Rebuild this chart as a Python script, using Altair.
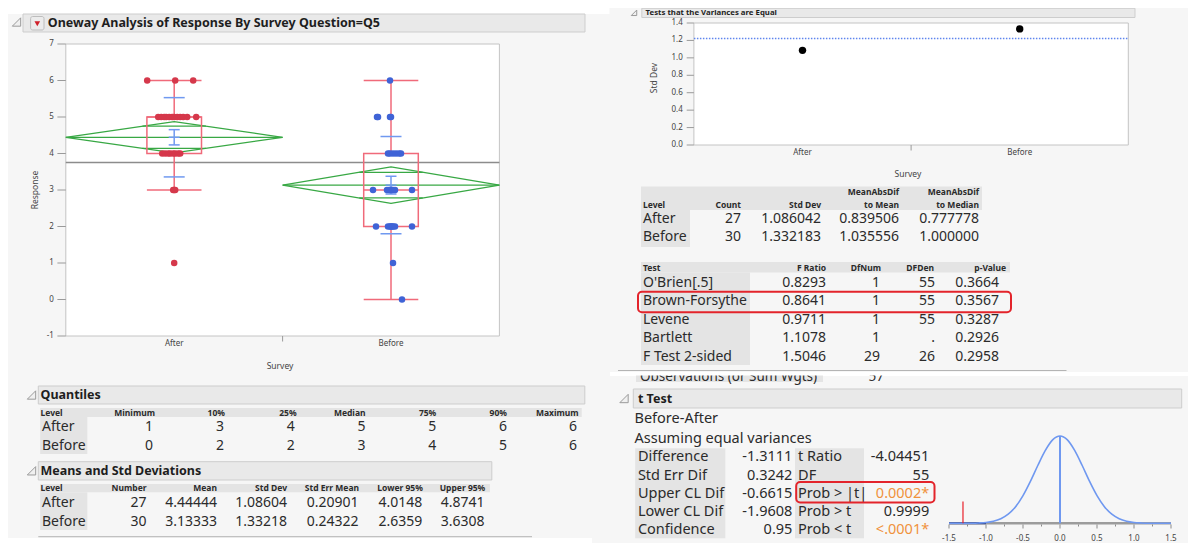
import altair as alt
import pandas as pd

FONT = "Noto Sans"

# ------------------------------------------------------------------ data
levels = ["After", "Before"]

after_resp = [6, 6, 6, 5, 5, 5, 5, 5, 5, 5, 5, 5, 5, 5, 5, 4, 4, 4, 4, 4, 4, 4, 4, 3, 3, 3, 1]
after_jitter_px = [-27, 1, 19, -16, -13, -10, -8, -5, -2, 0, 3, 6, 9, 13, 22,
                   -12, -9, -6, -4, -1, 1, 4, 6, -1, 0, 1, 0]
before_resp = [6, 5, 5, 5, 5, 4, 4, 4, 4, 4, 4, 3, 3, 3, 3, 3, 3, 3, 3, 3,
               2, 2, 2, 2, 2, 2, 2, 2, 1, 0]
before_jitter_px = [-1, -14, -13, -1, 0, -3, -1, 2, 5, 8, 10, -18, -4, -2, -1, 0, 1, 2, 4, 21,
                    -15, -3, -1, 0, 1, 2, 4, 21, 2, 11]
grand_mean = 3.754
whisker_lo = [3, 0]
whisker_hi = [6, 6]

quant_cols = ["Minimum", "10%", "25%", "Median", "75%", "90%", "Maximum"]
quant_after = [1, 3, 4, 5, 5, 6, 6]
quant_before = [0, 2, 2, 3, 4, 5, 6]

ms_cols = ["Number", "Mean", "Std Dev", "Std Err Mean", "Lower 95%", "Upper 95%"]
ms_number = [27, 30]
ms_mean = [4.44444, 3.13333]
ms_sd = [1.08604, 1.33218]
ms_sem = [0.20901, 0.24322]
ms_lower = [4.0148, 2.6359]
ms_upper = [4.8741, 3.6308]

var_sd = [1.086042, 1.332183]
var_mad_mean = [0.839506, 1.035556]
var_mad_median = [0.777778, 1.000000]
pooled_sd = 1.222
var_ticks = [0.0, 0.2, 0.4, 0.6, 0.8, 1.0, 1.2, 1.4]

tests = ["O'Brien[.5]", "Brown-Forsythe", "Levene", "Bartlett", "F Test 2-sided"]
f_ratio = [0.8293, 0.8641, 0.9711, 1.1078, 1.5046]
df_num = ["1", "1", "1", "1", "29"]
df_den = ["55", "55", "55", ".", "26"]
p_value = [0.3664, 0.3567, 0.3287, 0.2926, 0.2958]

tt_labels1 = ["Difference", "Std Err Dif", "Upper CL Dif", "Lower CL Dif", "Confidence"]
tt_values1 = ["-1.3111", "0.3242", "-0.6615", "-1.9608", "0.95"]
tt_labels2 = ["t Ratio", "DF", "Prob > |t|", "Prob > t", "Prob < t"]
tt_values2 = ["-4.04451", "55", "0.0002*", "0.9999", "<.0001*"]
tt_diff = -1.3111
curve_x = [-1.5, -1.4, -1.3, -1.2, -1.1, -1.0, -0.9, -0.8, -0.7, -0.6, -0.5, -0.4, -0.3, -0.2, -0.1,
           0.0, 0.1, 0.2, 0.3, 0.4, 0.5, 0.6, 0.7, 0.8, 0.9, 1.0, 1.1, 1.2, 1.3, 1.4, 1.5]
curve_h = [0.0, 0.0, 0.0, 0.001, 0.004, 0.01, 0.024, 0.053, 0.105, 0.19, 0.317, 0.48, 0.662, 0.832, 0.955,
           1.0, 0.955, 0.832, 0.662, 0.48, 0.317, 0.19, 0.105, 0.053, 0.024, 0.01, 0.004, 0.001, 0.0, 0.0, 0.0]
t_ticks = [-1.5, -1.0, -0.5, 0.0, 0.5, 1.0, 1.5]
t_tick_labels = ["-1.5", "-1.0", "-0.5", "0.0", "0.5", "1.0", "1.5"]

# ------------------------------------------------------------------ layout / style
OFF = 8.0
W, H = 1180, 535
PANEL = "#f6f6f6"
HDR = "#e9e9e9"
HDR_STROKE = "#cdcdcd"
CELL = "#e4e4e4"
TXT = "#2b2b2b"
RED = "#d5384b"
BLUE = "#3f63d6"
PINK = "#f06a7a"
GREEN = "#38a844"
LBLUE = "#7099f0"
ORANGE = "#f0923c"


def sc(dom, rng):
    return alt.Scale(domain=list(dom), range=[rng[0] - OFF, rng[1] - OFF], nice=False, zero=False)


PXS = sc((OFF, OFF + W), (OFF, OFF + W))
PYS = sc((OFF, OFF + H), (OFF, OFF + H))

OW_L, OW_R, OW_T, OW_B = 65.8, 499.4, 44.0, 336.0
OWX = sc((-0.5, 1.5), (OW_L, OW_R))
OWY = sc((-1, 7), (OW_B, OW_T))
PPU = (OW_R - OW_L) / 2.0
BOXH = 27.3 / PPU

V_L, V_R, V_T, V_B = 693.9, 1128.3, 23.0, 145.0
VX = sc((-0.5, 1.5), (V_L, V_R))
VY = sc((0, 1.4), (V_B, V_T))

TX = sc((-1.5, 1.5), (949.0, 1171.0))
TY = sc((0, 1), (523.3, 436.0))


def place(chart, x, y, x2=None, y2=None, text=None, **extra):
    enc = dict(x=alt.X(f"{x[0]}:Q", scale=x[1], axis=None),
               y=alt.Y(f"{y[0]}:Q", scale=y[1], axis=None))
    if x2:
        enc["x2"] = alt.X2(f"{x2}:Q")
    if y2:
        enc["y2"] = alt.Y2(f"{y2}:Q")
    if text:
        enc["text"] = alt.Text(f"{text}:N")
    enc.update(extra)
    return chart.encode(**enc)


def rects(boxes, **mk):
    df = pd.DataFrame(boxes, columns=["x", "y", "x2", "y2"])
    return place(alt.Chart(df).mark_rect(**mk), ("x", PXS), ("y", PYS), "x2", "y2")


def rules_px(segs, **mk):
    df = pd.DataFrame(segs, columns=["x", "y", "x2", "y2"])
    return place(alt.Chart(df).mark_rule(**mk), ("x", PXS), ("y", PYS), "x2", "y2")


def texts(rows, align="left", size=13.5, weight="normal", color=TXT, angle=0, baseline="middle"):
    df = pd.DataFrame(rows, columns=["x", "y", "t"])
    kw = dict(align=align, baseline=baseline, fontSize=size, fontWeight=weight, color=color, font=FONT)
    if angle:
        kw["angle"] = angle
    return place(alt.Chart(df).mark_text(**kw), ("x", PXS), ("y", PYS), text="t")


L = []

# ---- panel backgrounds
L.append(rects([(5.7, 14, 610, 538)], fill=PANEL))
L.append(rects([(592, 376, 1196, 551)], fill=PANEL))
L.append(rects([(636, 374, 823, 382)], fill=CELL))
L.append(texts([(640, 381, "Observations (or Sum Wgts)")], baseline="alphabetic"))
L.append(texts([(884, 381, "57")], align="right", baseline="alphabetic"))
L.append(rects([(609.5, 0, 1193, 372)], fill=PANEL))
L.append(rects([(610, 372, 1196, 375.5)], fill="white"))
L.append(rules_px([(618, 370.5, 1066.5, 370.5), (38.3, 536.7, 532, 536.7)], color="#b4b4b4", strokeWidth=1))

# ---- outline headers
L.append(rects([(23, 14, 585, 32), (641.8, 8.3, 1135, 17.5), (38.3, 386, 584.8, 404),
                (38.3, 461.7, 491.8, 480), (633.3, 389, 1181.7, 408)],
               fill=HDR, stroke=HDR_STROKE, strokeWidth=1))
L.append(texts([(47.8, 23, "Oneway Analysis of Response By Survey Question=Q5"),
                (40.5, 395, "Quantiles"),
                (40.5, 470.8, "Means and Std Deviations"),
                (637.9, 398.5, "t Test")], size=12.5, weight="bold", color="#1e1e1e"))
L.append(texts([(645.6, 12.8, "Tests that the Variances are Equal")], size=7.8, weight="bold", color="#1e1e1e"))
icon_df = pd.DataFrame({"x": [16.5, 31.5, 31.5, 624.0], "y": [22, 395, 470.8, 398.5]})
L.append(place(alt.Chart(icon_df).mark_point(shape="M 1 -1 L 1 1 L -1 1 Z", size=70, filled=True,
                                             fill="#f0f0f0", stroke="#9a9a9a", strokeWidth=1, opacity=1),
               ("x", PXS), ("y", PYS)))
L.append(place(alt.Chart(pd.DataFrame({"x": [634.0], "y": [12.8]})).mark_point(
    shape="M 1 -1 L 1 1 L -1 1 Z", size=30, filled=True, fill="#f0f0f0", stroke="#9a9a9a",
    strokeWidth=1, opacity=1), ("x", PXS), ("y", PYS)))
L.append(rects([(30.6, 16.5, 44, 30)], fill="#ececec", stroke="#bdbdbd", strokeWidth=1, cornerRadius=2))
L.append(place(alt.Chart(pd.DataFrame({"x": [37.3], "y": [23.8]})).mark_point(
    shape="triangle-down", size=32, filled=True, color="#d0202a", opacity=1), ("x", PXS), ("y", PYS)))

# ---- table header bands and level cells
L.append(rects([(641, 186.5, 982, 210), (641, 262, 1010, 272.5), (40.2, 408, 581.7, 417),
                (40.2, 484, 489.9, 492.3)], fill=CELL))
L.append(rects([(641, 210, 690, 247), (641, 272.5, 750, 365), (40.2, 417, 87.3, 454),
                (40.2, 492.3, 87.3, 530), (635.2, 448.3, 725.3, 538.3), (795, 448.3, 864, 538.3)],
               fill=CELL))

# ---- plot frames
L.append(rects([(OW_L, OW_T, OW_R, OW_B), (V_L, V_T, V_R, V_B)], fill="white", stroke="#c4c4c4", strokeWidth=1))

# =================================================================== Oneway plot
ow_ticks = pd.DataFrame({"v": list(range(-1, 8))})
ow_ticks["t"] = ow_ticks["v"].astype(str)
ow_ticks["xl"] = 53.8
ow_ticks["x1"] = 57.4
ow_ticks["x2"] = OW_L
L.append(place(alt.Chart(ow_ticks).mark_rule(color="#9a9a9a", strokeWidth=1), ("x1", PXS), ("v", OWY), x2="x2"))
L.append(place(alt.Chart(ow_ticks).mark_text(align="right", baseline="middle", fontSize=8, font=FONT, color="#444"),
               ("xl", PXS), ("v", OWY), text="t"))
ow_x = pd.DataFrame({"i": [0, 1], "t": levels, "y": [343.5, 343.5]})
L.append(place(alt.Chart(ow_x).mark_text(align="center", baseline="middle", fontSize=8, font=FONT, color="#444"),
               ("i", OWX), ("y", PYS), text="t"))
L.append(place(alt.Chart(pd.DataFrame({"i": [0.5], "y": [OW_B], "y2": [341.5]})).mark_rule(color="#9a9a9a"),
               ("i", OWX), ("y", PYS), y2="y2"))
L.append(texts([(280, 365.5, "Survey")], align="center", size=8.5, color="#444"))
L.append(texts([(35.2, 190, "Response")], align="center", size=8.5, color="#444", angle=270))

# mean diamonds
drows = []
f = 1 - 2 ** -0.5
for i in range(2):
    m, lo, hi = ms_mean[i], ms_lower[i], ms_upper[i]
    d = (hi - m) / 2 ** 0.5
    segs = {
        f"d{i}": [(i - 0.5, m), (i, hi), (i + 0.5, m), (i, lo), (i - 0.5, m)],
        f"c{i}": [(i - 0.5, m), (i + 0.5, m)],
        f"u{i}": [(i - 0.5 * f, m + d), (i + 0.5 * f, m + d)],
        f"l{i}": [(i - 0.5 * f, m - d), (i + 0.5 * f, m - d)],
    }
    for k, pts in segs.items():
        for o, (gx, gy) in enumerate(pts):
            drows.append(dict(seg=k, o=o, gx=gx, gy=gy))
dia = pd.DataFrame(drows)
L.append(place(alt.Chart(dia).mark_line(color=GREEN, strokeWidth=1.3), ("gx", OWX), ("gy", OWY),
               detail="seg:N", order="o:Q"))

# grand mean
L.append(place(alt.Chart(pd.DataFrame({"a": [-0.5], "b": [1.5], "m": [grand_mean]})).mark_rule(
    color="#8c8c8c", strokeWidth=1.6), ("a", OWX), ("m", OWY), x2="b"))

# box plots
box = pd.DataFrame({"i": [0, 1],
                    "q1": [quant_after[2], quant_before[2]],
                    "med": [quant_after[3], quant_before[3]],
                    "q3": [quant_after[4], quant_before[4]],
                    "wlo": whisker_lo, "whi": whisker_hi})
box["xl"] = box["i"] - BOXH
box["xr"] = box["i"] + BOXH
L.append(place(alt.Chart(box).mark_rect(fill="transparent", stroke=PINK, strokeWidth=1.5),
               ("xl", OWX), ("q1", OWY), x2="xr", y2="q3"))
for a, b in (("q3", "whi"), ("q1", "wlo")):
    L.append(place(alt.Chart(box).mark_rule(color=PINK, strokeWidth=1.5), ("i", OWX), (a, OWY), y2=b))
for c in ("med", "whi", "wlo"):
    L.append(place(alt.Chart(box).mark_rule(color=PINK, strokeWidth=1.5), ("xl", OWX), (c, OWY), x2="xr"))

# std dev lines and mean error bars
mb = pd.DataFrame({"i": [0, 1], "m": ms_mean, "sd": ms_sd, "se": ms_sem})
mb["sdh"] = mb["m"] + mb["sd"]
mb["sdl"] = mb["m"] - mb["sd"]
mb["seh"] = mb["m"] + mb["se"]
mb["sel"] = mb["m"] - mb["se"]
mb["a1"] = mb["i"] - 10.5 / PPU
mb["b1"] = mb["i"] + 10.5 / PPU
mb["a2"] = mb["i"] - 5.5 / PPU
mb["b2"] = mb["i"] + 5.5 / PPU
for c in ("sdh", "sdl"):
    L.append(place(alt.Chart(mb).mark_rule(color=LBLUE, strokeWidth=1.5), ("a1", OWX), (c, OWY), x2="b1"))
for c in ("seh", "sel", "m"):
    L.append(place(alt.Chart(mb).mark_rule(color=LBLUE, strokeWidth=1.5), ("a2", OWX), (c, OWY), x2="b2"))
L.append(place(alt.Chart(mb).mark_rule(color=LBLUE, strokeWidth=1.5), ("i", OWX), ("sel", OWY), y2="seh"))

# points
prow = []
for gi, (resp, jit) in enumerate(((after_resp, after_jitter_px), (before_resp, before_jitter_px))):
    for r, j in zip(resp, jit):
        prow.append(dict(px=gi + j / PPU, r=r, g=levels[gi]))
pts = pd.DataFrame(prow)
L.append(place(alt.Chart(pts).mark_circle(size=42, opacity=1), ("px", OWX), ("r", OWY),
               color=alt.Color("g:N", scale=alt.Scale(domain=levels, range=[RED, BLUE]), legend=None)))

# =================================================================== variance plot
vt = pd.DataFrame({"v": var_ticks})
vt["t"] = [f"{v:.1f}" for v in var_ticks]
vt["xl"] = 682.8
vt["x1"] = 686.7
vt["x2"] = V_L
L.append(place(alt.Chart(vt).mark_rule(color="#9a9a9a"), ("x1", PXS), ("v", VY), x2="x2"))
L.append(place(alt.Chart(vt).mark_text(align="right", baseline="middle", fontSize=8, font=FONT, color="#444"),
               ("xl", PXS), ("v", VY), text="t"))
vx = pd.DataFrame({"i": [0, 1], "t": levels, "y": [152.5, 152.5]})
L.append(place(alt.Chart(vx).mark_text(align="center", baseline="middle", fontSize=8, font=FONT, color="#444"),
               ("i", VX), ("y", PYS), text="t"))
L.append(place(alt.Chart(pd.DataFrame({"i": [0.5], "y": [V_B], "y2": [150.5]})).mark_rule(color="#9a9a9a"),
               ("i", VX), ("y", PYS), y2="y2"))
L.append(texts([(907.9, 174, "Survey")], align="center", size=8.5, color="#444"))
L.append(texts([(654.4, 78, "Std Dev")], align="center", size=8.5, color="#444", angle=270))
L.append(place(alt.Chart(pd.DataFrame({"a": [-0.5], "b": [1.5], "p": [pooled_sd]})).mark_rule(
    color="#5f86ee", strokeWidth=1.4, strokeDash=[1.5, 1.5]), ("a", VX), ("p", VY), x2="b"))
L.append(place(alt.Chart(pd.DataFrame({"i": [0, 1], "s": var_sd})).mark_circle(size=55, color="black", opacity=1),
               ("i", VX), ("s", VY)))

# ---- variance tables
HS = 8.5
L.append(texts([(643, 205, "Level"), (643, 268, "Test")], size=HS, weight="bold"))
L.append(texts([(741, 205, "Count"), (821, 205, "Std Dev"), (899, 192, "MeanAbsDif"), (899, 205, "to Mean"),
                (979, 192, "MeanAbsDif"), (979, 205, "to Median"),
                (826, 268, "F Ratio"), (881, 268, "DfNum"), (934, 268, "DFDen"), (1006, 268, "p-Value")],
               align="right", size=HS, weight="bold"))
vrow_y = [219.3, 237.3]
L.append(texts([(643, vrow_y[k], levels[k]) for k in range(2)], size=14))
vals = []
for k in range(2):
    vals += [(741, vrow_y[k], str(ms_number[k])), (821, vrow_y[k], f"{var_sd[k]:.6f}"),
             (899, vrow_y[k], f"{var_mad_mean[k]:.6f}"), (979, vrow_y[k], f"{var_mad_median[k]:.6f}")]
L.append(texts(vals, align="right", size=14))
trow_y = [283.3, 301.2, 319.6, 338.3, 356.7]
L.append(texts([(643, trow_y[k], tests[k]) for k in range(5)], size=14))
vals = []
for k in range(5):
    vals += [(826, trow_y[k], f"{f_ratio[k]:.4f}"), (880, trow_y[k], df_num[k]),
             (935, trow_y[k], df_den[k]), (999, trow_y[k], f"{p_value[k]:.4f}")]
L.append(texts(vals, align="right", size=14))

# ---- quantiles table
q_right = [155, 225, 296.6, 365.5, 436.3, 507, 578.6]
q_val_right = [153, 224, 294.7, 365.5, 436.3, 507, 577]
L.append(texts([(40.5, 413, "Level"), (40.5, 488.3, "Level")], size=HS, weight="bold"))
L.append(texts([(q_right[k], 413, quant_cols[k]) for k in range(7)], align="right", size=HS, weight="bold"))
qy = [427.3, 445.7]
L.append(texts([(42, qy[0], levels[0]), (42, qy[1], levels[1])], size=14))
vals = []
for k in range(7):
    vals += [(q_val_right[k], qy[0], str(quant_after[k])), (q_val_right[k], qy[1], str(quant_before[k]))]
L.append(texts(vals, align="right", size=14))

# ---- means table
m_right = [146.6, 217, 287, 359, 422.9, 485.3]
m_val_right = [146.6, 217, 287, 358.6, 422.2, 484.5]
L.append(texts([(m_right[k], 488.3, ms_cols[k]) for k in range(6)], align="right", size=HS, weight="bold"))
my = [503.3, 521.7]
L.append(texts([(42, my[0], levels[0]), (42, my[1], levels[1])], size=14))
vals = []
for k in range(2):
    cells = [str(ms_number[k]), f"{ms_mean[k]:.5f}", f"{ms_sd[k]:.5f}", f"{ms_sem[k]:.5f}",
             f"{ms_lower[k]:.4f}", f"{ms_upper[k]:.4f}"]
    vals += [(m_val_right[c], my[k], cells[c]) for c in range(6)]
L.append(texts(vals, align="right", size=14))

# ---- t test texts
L.append(texts([(634.5, 419, "Before-After"), (634.5, 439.3, "Assuming equal variances")], size=14.5))
ty = [457.3, 475.6, 493.9, 512.1, 530.3]
L.append(texts([(637.9, ty[k], tt_labels1[k]) for k in range(5)] +
               [(798.1, ty[k], tt_labels2[k]) for k in range(5)], size=14.5))
L.append(texts([(792.4, ty[k], tt_values1[k]) for k in range(5)] +
               [(929.2, ty[k], tt_values2[k]) for k in range(5) if not tt_values2[k].endswith("*")],
               align="right", size=14.5))
L.append(texts([(929.2, ty[k], tt_values2[k]) for k in range(5) if tt_values2[k].endswith("*")],
               align="right", size=14.5, color=ORANGE))

# red highlight boxes
L.append(rects([(638, 291.7, 1011, 312.3), (796.2, 482, 934.5, 502.5)], fill="transparent",
               stroke="#e3242b", strokeWidth=2, cornerRadius=4))

# =================================================================== t distribution plot
L.append(place(alt.Chart(pd.DataFrame({"a": [-1.5], "b": [1.5], "y": [0.0]})).mark_rule(
    color="#9c9c9c", strokeWidth=2.5), ("a", TX), ("y", TY), x2="b"))
L.append(place(alt.Chart(pd.DataFrame({"a": [-1.5], "b": [-1.0], "y": [0.0]})).mark_rule(
    color="#2c3b7e", strokeWidth=2), ("a", TX), ("y", TY), x2="b"))
tk = pd.DataFrame({"v": t_ticks, "t": t_tick_labels})
tk["y1"] = 524.5
tk["y2"] = 528.5
tk["yl"] = 538.5
L.append(place(alt.Chart(tk).mark_rule(color="#8a8a8a"), ("v", TX), ("y1", PYS), y2="y2"))
tkm = pd.DataFrame({"v": [v + 0.25 for v in t_ticks[:-1]]})
tkm["y1"] = 524.5
tkm["y2"] = 526.5
L.append(place(alt.Chart(tkm).mark_rule(color="#8a8a8a"), ("v", TX), ("y1", PYS), y2="y2"))
L.append(place(alt.Chart(tk).mark_text(align="center", baseline="middle", fontSize=8, font=FONT, color="#444"),
               ("v", TX), ("yl", PYS), text="t"))
L.append(place(alt.Chart(pd.DataFrame({"x": curve_x, "h": curve_h})).mark_line(
    color="#6f98f0", strokeWidth=1.6, interpolate="monotone"), ("x", TX), ("h", TY)))
L.append(place(alt.Chart(pd.DataFrame({"x": [0.0], "a": [0.0], "b": [1.0]})).mark_rule(
    color="#6f98f0", strokeWidth=2), ("x", TX), ("a", TY), y2="b"))
L.append(place(alt.Chart(pd.DataFrame({"x": [tt_diff], "a": [0.0], "b": [0.25]})).mark_rule(
    color="#e8202a", strokeWidth=1.2), ("x", TX), ("a", TY), y2="b"))

chart = alt.layer(*L).resolve_scale(x="independent", y="independent", color="independent").properties(
    width=W, height=H, autosize=alt.AutoSizeParams(type="none"), padding=0, background="white"
).configure_view(stroke=None)

chart.save("out.html", embed_options={"renderer": "svg", "actions": False})
